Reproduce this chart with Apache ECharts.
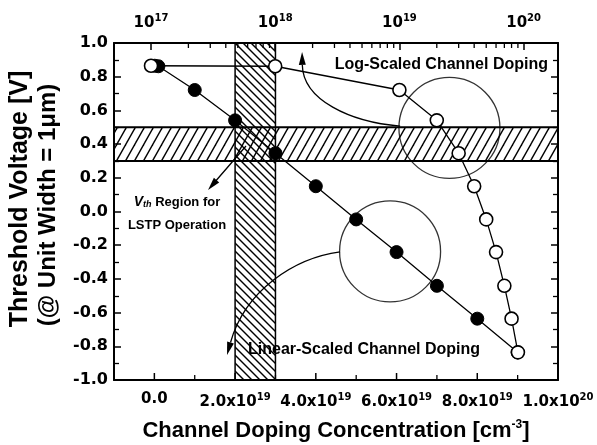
<!DOCTYPE html>
<html>
<head>
<meta charset="utf-8">
<script src="https://cdn.jsdelivr.net/npm/echarts@6/dist/echarts.min.js"></script>
<style>
html, body { margin: 0; padding: 0; background: #fff; }
#chart { width: 597px; height: 445px; }
</style>
</head>
<body>
<div id="chart"></div>
<script>
// channel doping [cm^-3] vs threshold voltage [V]
var doping = [1e17, 1e18, 1e19, 2e19, 3e19, 4e19, 5e19, 6e19, 7e19, 8e19, 9e19];
var vth = [0.865, 0.862, 0.721, 0.541, 0.346, 0.150, -0.047, -0.241, -0.441, -0.636, -0.836];

// LSTP target window
var vthBand = [0.3, 0.5];
var dopingBand = [2e19, 3e19];

// tick values
var linTicks = [0, 2e19, 4e19, 6e19, 8e19, 1e20];
var linMinorTicks = [1e19, 3e19, 5e19, 7e19, 9e19];
var logMinorTicks = [2e17, 3e17, 4e17, 5e17, 6e17, 7e17, 8e17, 9e17,
                     2e18, 3e18, 4e18, 5e18, 6e18, 7e18, 8e18, 9e18,
                     2e19, 3e19, 4e19, 5e19, 6e19, 7e19, 8e19, 9e19];

// marking circles (linear doping, V)
var circleX = [7.31e19, 5.84e19];
var circleY = [0.496, -0.237];

// arrows: start, ctrl1, ctrl2, tip  (linear doping, V)
var arrowLog = [6.09e19, 0.507, 4.85e19, 0.531, 3.68e19, 0.662, 3.66e19, 0.947];
var arrowLin = [4.60e19, -0.240, 3.48e19, -0.276, 2.25e19, -0.466, 1.80e19, -0.852];
var arrowVth = [2.27e19, 0.389, 2.27e19, 0.389, 1.33e19, 0.128, 1.33e19, 0.128];

var FONT_T = 'DejaVu Sans';
var FONT = 'Liberation Sans';

function hatch(w, h, dir) {
    var c = document.createElement('canvas');
    c.width = w; c.height = h;
    var g = c.getContext('2d');
    g.strokeStyle = '#000';
    g.lineWidth = 1.4;
    for (var k = -1; k <= 1; k++) {
        g.beginPath();
        if (dir > 0) { g.moveTo(k * w - w, 2 * h); g.lineTo(k * w + 2 * w, -h); }
        else { g.moveTo(k * w - w, -h); g.lineTo(k * w + 2 * w, 2 * h); }
        g.stroke();
    }
    return c;
}

var chart = echarts.init(document.getElementById('chart'));

var supRich = {
    b: { fontFamily: FONT_T, fontWeight: 'bold', fontSize: 15, color: '#000', verticalAlign: 'bottom' },
    s: { fontFamily: FONT_T, fontWeight: 'bold', fontSize: 10, color: '#000', verticalAlign: 'bottom', padding: [0, 0, 8, 0] }
};

var tickStyle = { color: '#000', width: 1.5 };
var minorTickStyle = { color: '#000', width: 1.3 };

function frameAxis(extra) {
    var a = {
        axisLine: { show: true, onZero: false, lineStyle: { color: '#000', width: 2 } },
        axisTick: { show: true, inside: true, length: 7, lineStyle: tickStyle },
        splitLine: { show: false },
        axisLabel: { show: false }
    };
    for (var k in extra) a[k] = extra[k];
    return a;
}

// short vertical tick drawn from an axis value (dims: x, y, length, direction)
function tickItem(params, api) {
    var p = api.coord([api.value(0), api.value(1)]);
    return { type: 'line',
             shape: { x1: p[0], y1: p[1], x2: p[0], y2: p[1] + api.value(3) * api.value(2) },
             style: { stroke: '#000', lineWidth: api.value(2) > 6 ? 1.5 : 1.3 } };
}

var logMin = Math.pow(10, 16.702), logMax = Math.pow(10, 20.277);

var option = {
    animation: false,
    backgroundColor: '#fff',
    grid: { left: 114, right: 39, top: 43, bottom: 65 },
    xAxis: [
        frameAxis({ type: 'value', position: 'bottom', min: -1e19, max: 1e20,
            axisTick: { show: false },
            axisLabel: { show: true, margin: 12, customValues: linTicks, rich: supRich,
                formatter: function (v) {
                    if (v === 0) return '{b|0.0}';
                    var e = Math.floor(Math.log10(v) + 1e-9);
                    return '{b|' + (v / Math.pow(10, e)).toFixed(1) + 'x10}{s|' + e + '}';
                } } }),
        frameAxis({ type: 'log', position: 'top', min: logMin, max: logMax,
            axisLabel: { show: true, margin: 12, rich: supRich,
                formatter: function (v) {
                    var e = Math.log10(v);
                    if (Math.abs(e - Math.round(e)) > 1e-6) return '';
                    return '{b|10}{s|' + Math.round(e) + '}';
                } } })
    ],
    yAxis: [
        frameAxis({ type: 'value', position: 'left', min: -1, max: 1, interval: 0.2,
            minorTick: { show: true, splitNumber: 2, length: 5, lineStyle: minorTickStyle },
            axisLabel: { show: true, margin: 6, color: '#000', fontFamily: FONT_T, fontWeight: 'bold', fontSize: 16,
                formatter: function (v) { return (Math.round(v * 10) / 10).toFixed(1); } } }),
        frameAxis({ type: 'value', position: 'right', min: -1, max: 1, interval: 0.2,
            minorTick: { show: true, splitNumber: 2, length: 5, lineStyle: minorTickStyle } })
    ],
    series: [
        {
            type: 'line', xAxisIndex: 0, yAxisIndex: 0, data: [], z: 1, silent: true,
            markArea: {
                silent: true,
                data: [
                    [{ yAxis: vthBand[0], itemStyle: { color: { image: hatch(9, 16, 1), repeat: 'repeat' }, borderColor: '#000', borderWidth: 2 } },
                     { yAxis: vthBand[1] }],
                    [{ xAxis: dopingBand[0], itemStyle: { color: { image: hatch(8, 8, -1), repeat: 'repeat' }, borderColor: '#000', borderWidth: 1.5 } },
                     { xAxis: dopingBand[1] }]
                ]
            }
        },
        {
            // minor ticks of the log (top) axis
            name: 'logMinor', type: 'custom', xAxisIndex: 1, yAxisIndex: 0, z: 5, silent: true, clip: false,
            data: logMinorTicks.map(function (v) { return [v, 1, 5, 1]; }),
            renderItem: tickItem
        },
        {
            // ticks of the linear (bottom) axis
            name: 'linTicks', type: 'custom', xAxisIndex: 0, yAxisIndex: 0, z: 5, silent: true, clip: false,
            data: linTicks.map(function (v) { return [v, -1, 7, -1]; })
                .concat(linMinorTicks.map(function (v) { return [v, -1, 5, -1]; })),
            renderItem: tickItem
        },
        {
            name: 'circles', type: 'scatter', xAxisIndex: 0, yAxisIndex: 0, z: 2, silent: true,
            symbol: 'circle', symbolSize: 101,
            itemStyle: { color: 'rgba(0,0,0,0)', borderColor: '#000', borderWidth: 1.3 },
            data: circleX.map(function (x, i) { return [x, circleY[i]]; })
        },
        {
            name: 'arrows', type: 'custom', xAxisIndex: 0, yAxisIndex: 0, z: 2, silent: true,
            data: [arrowLog, arrowLin, arrowVth],
            renderItem: function (params, api) {
                var p = [];
                for (var i = 0; i < 4; i++) p.push(api.coord([api.value(2 * i), api.value(2 * i + 1)]));
                var dx = p[3][0] - p[2][0], dy = p[3][1] - p[2][1];
                if (Math.abs(dx) + Math.abs(dy) < 1e-6) { dx = p[3][0] - p[0][0]; dy = p[3][1] - p[0][1]; }
                var len = Math.sqrt(dx * dx + dy * dy); dx /= len; dy /= len;
                var L = 13, W = 3.5;
                var bx = p[3][0] - dx * L, by = p[3][1] - dy * L;
                return {
                    type: 'group',
                    children: [
                        { type: 'bezierCurve',
                          shape: { x1: p[0][0], y1: p[0][1], cpx1: p[1][0], cpy1: p[1][1], cpx2: p[2][0], cpy2: p[2][1], x2: bx, y2: by },
                          style: { stroke: '#000', lineWidth: 1.3, fill: null } },
                        { type: 'polygon',
                          shape: { points: [[p[3][0], p[3][1]], [bx - dy * W, by + dx * W], [bx + dy * W, by - dx * W]] },
                          style: { fill: '#000' } }
                    ]
                };
            }
        },
        {
            name: 'Linear-Scaled', type: 'line', xAxisIndex: 0, yAxisIndex: 0, z: 3,
            symbol: 'circle', symbolSize: 13, showSymbol: true,
            lineStyle: { color: '#000', width: 1.3 },
            itemStyle: { color: '#000', borderColor: '#000', borderWidth: 1 },
            data: doping.map(function (d, i) { return [d, vth[i]]; })
        },
        {
            name: 'Log-Scaled', type: 'line', xAxisIndex: 1, yAxisIndex: 0, z: 4,
            symbol: 'circle', symbolSize: 13, showSymbol: true,
            lineStyle: { color: '#000', width: 1.3 },
            itemStyle: { color: '#fff', borderColor: '#000', borderWidth: 1.6 },
            data: doping.map(function (d, i) { return [d, vth[i]]; })
        }
    ],
    graphic: [
        { type: 'text', x: 548, y: 65, z: 10,
          style: { text: 'Log-Scaled Channel Doping', font: 'bold 16px "Liberation Sans"', fill: '#000', align: 'right', verticalAlign: 'middle' } },
        { type: 'text', x: 248, y: 350, z: 10,
          style: { text: 'Linear-Scaled Channel Doping', font: 'bold 16px "Liberation Sans"', fill: '#000', align: 'left', verticalAlign: 'middle' } },
        { type: 'text', x: 177, y: 202, z: 10,
          style: { text: '{v|V}{s|th}{r| Region for}', align: 'center', verticalAlign: 'middle',
                   rich: { v: { fontFamily: FONT, fontWeight: 'bold', fontStyle: 'italic', fontSize: 14, fill: '#000', verticalAlign: 'bottom' },
                           s: { fontFamily: FONT, fontWeight: 'bold', fontStyle: 'italic', fontSize: 9, fill: '#000', verticalAlign: 'bottom' },
                           r: { fontFamily: FONT, fontWeight: 'bold', fontSize: 13, fill: '#000', verticalAlign: 'bottom' } } } },
        { type: 'text', x: 177, y: 225, z: 10,
          style: { text: 'LSTP Operation', font: 'bold 13px "Liberation Sans"', fill: '#000', align: 'center', verticalAlign: 'middle' } },
        { type: 'text', x: 20, y: 199, rotation: Math.PI / 2, z: 10,
          style: { text: 'Threshold Voltage [V]', font: 'bold 25px "Liberation Sans"', fill: '#000', align: 'center', verticalAlign: 'middle' } },
        { type: 'text', x: 48, y: 205, rotation: Math.PI / 2, z: 10,
          style: { text: '(@ Unit Width = 1\u03bcm)', font: 'bold 24px "Liberation Sans"', fill: '#000', align: 'center', verticalAlign: 'middle' } },
        { type: 'text', x: 336, y: 430, z: 10,
          style: { text: '{t|Channel Doping Concentration [cm}{s|-3}{t|]}', align: 'center', verticalAlign: 'middle',
                   rich: { t: { fontFamily: FONT, fontWeight: 'bold', fontSize: 22, fill: '#000', verticalAlign: 'bottom' },
                           s: { fontFamily: FONT, fontWeight: 'bold', fontSize: 12, fill: '#000', verticalAlign: 'bottom', padding: [0, 0, 11, 0] } } } }
    ]
};

chart.setOption(option);
</script>
</body>
</html>
